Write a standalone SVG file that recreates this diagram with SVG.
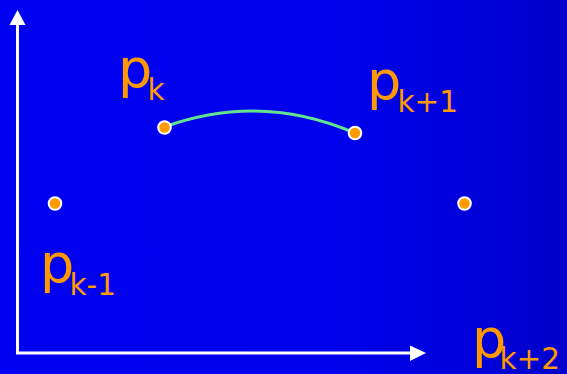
<svg xmlns="http://www.w3.org/2000/svg" width="567" height="374" viewBox="0 0 567 374">
<defs>
<linearGradient id="bg" x1="0" y1="0" x2="1" y2="0">
<stop offset="0" stop-color="#0000F2"/>
<stop offset="0.6" stop-color="#0000EC"/>
<stop offset="1" stop-color="#0000CC"/>
</linearGradient>
<style>
.pt{fill:#FF9900;stroke:#FFFFFF;stroke-width:2}
.lb{fill:#FF9900;font-family:"DejaVu Sans",Verdana,sans-serif}
.big{font-size:54px}
.sub{font-size:29.5px}
.ax{stroke:#FFFFFF;stroke-width:3;fill:none}
</style>
</defs>
<rect width="567" height="374" fill="url(#bg)"/>
<g id="connectors">
<line class="ax" x1="17.5" y1="354" x2="17.5" y2="22"/>
<polygon points="17.5,10 9.5,25 25.5,25" fill="#FFFFFF"/>
<line class="ax" x1="16" y1="353" x2="412" y2="353"/>
<polygon points="426,353 410,345.5 410,361" fill="#FFFFFF"/>
<path d="M164,127 Q260,92 355,133" fill="none" stroke="#62E48F" stroke-width="3"/>
</g>
<g id="pk"><circle class="pt" cx="164.5" cy="127.5" r="6.3"/><text class="lb" y="87"><tspan class="big" x="118">p</tspan><tspan class="sub" x="147.5" y="100">k</tspan></text></g>
<g id="pk1"><circle class="pt" cx="355" cy="133" r="6.3"/><text class="lb" y="99"><tspan class="big" x="367">p</tspan><tspan class="sub" x="397.5" y="112">k+1</tspan></text></g>
<g id="pkm1"><circle class="pt" cx="55" cy="203.5" r="6.3"/><text class="lb" y="282"><tspan class="big" x="40">p</tspan><tspan class="sub" x="69.5" y="295">k-1</tspan></text></g>
<g id="pk2"><circle class="pt" cx="464.5" cy="203.5" r="6.3"/><text class="lb" y="357"><tspan class="big" x="472">p</tspan><tspan class="sub" x="499.5" y="369">k+2</tspan></text></g>
</svg>
